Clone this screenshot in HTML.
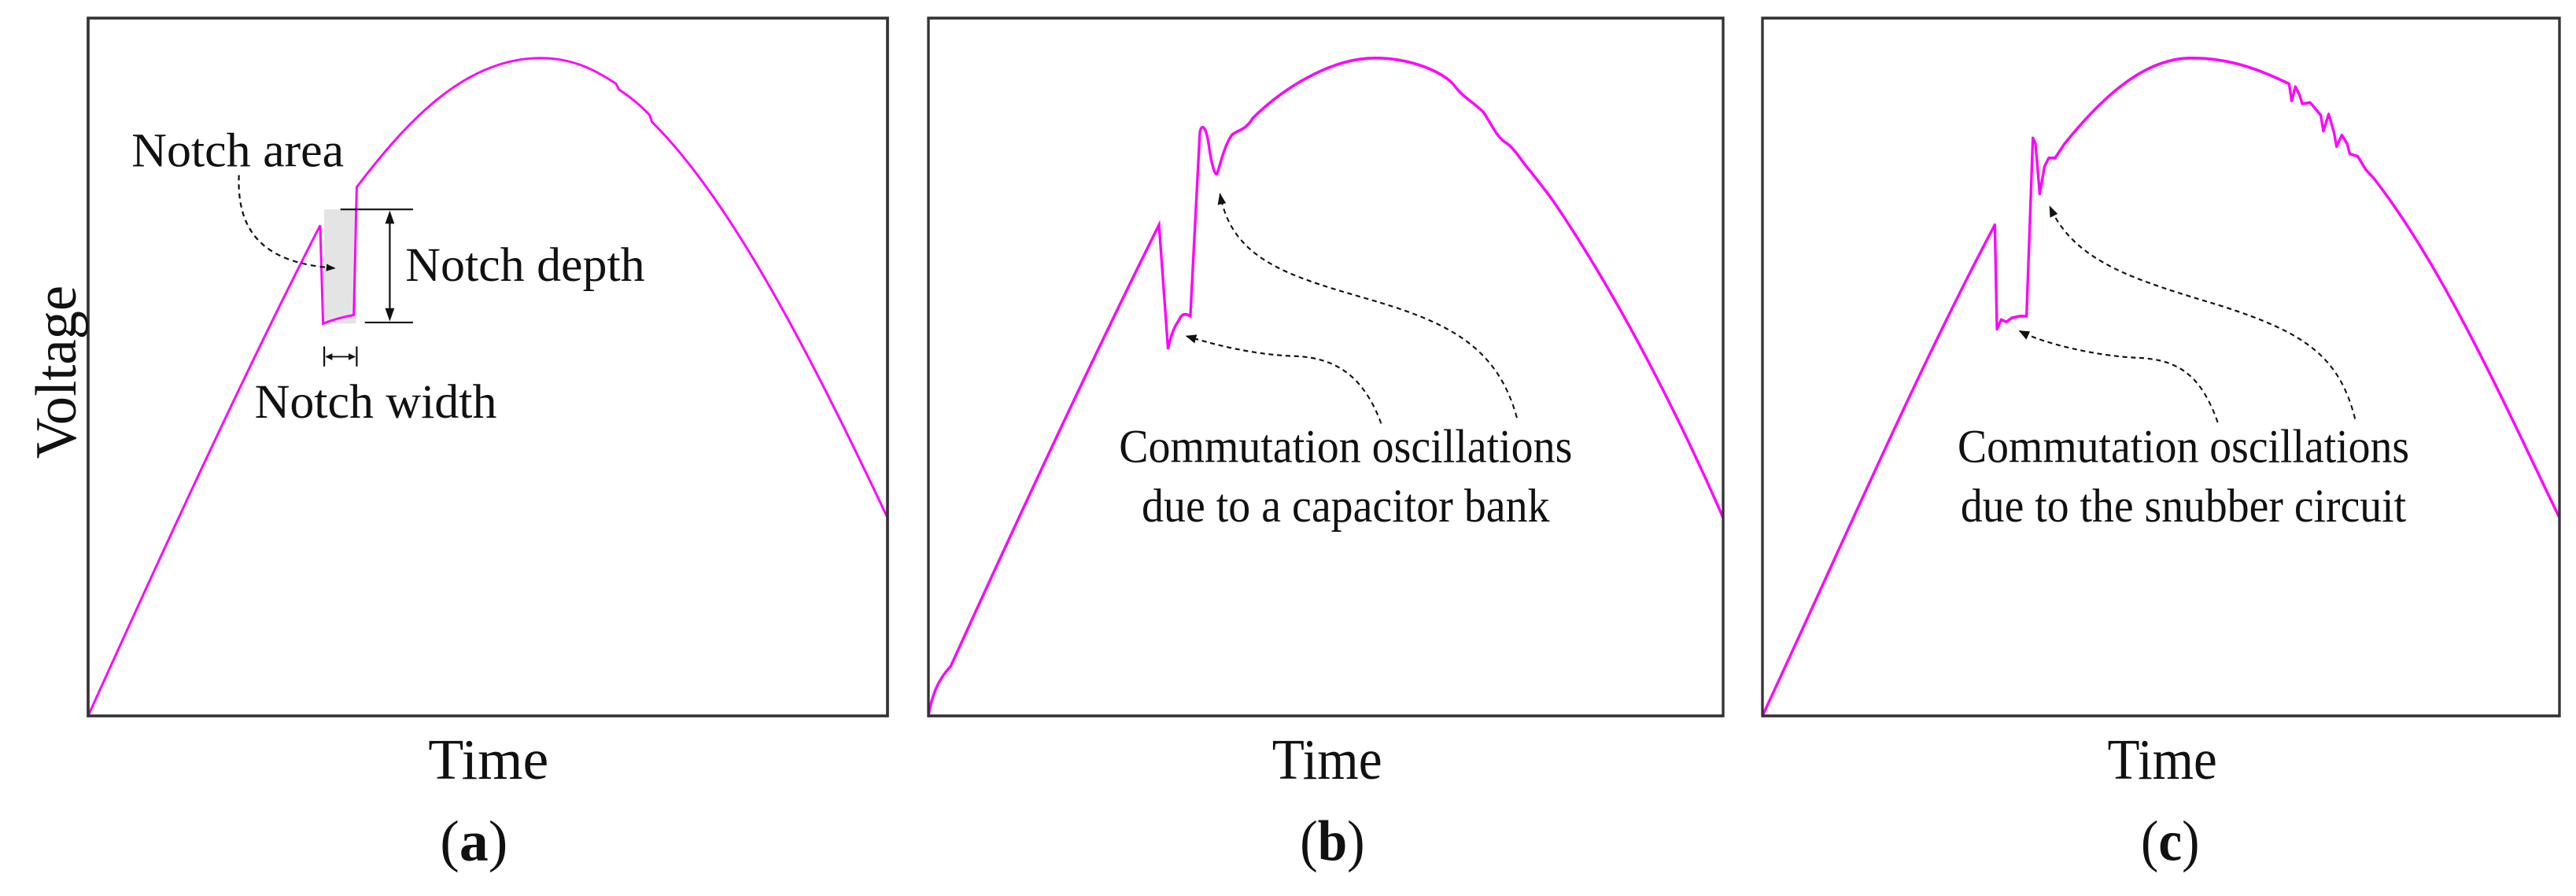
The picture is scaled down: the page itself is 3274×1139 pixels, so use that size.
<!DOCTYPE html>
<html><head><meta charset="utf-8"><style>
html,body{margin:0;padding:0;background:#fff;}
svg{display:block;}
text{font-family:"Liberation Serif",serif;fill:#111;}
</style></head><body>
<svg width="3274" height="1139" viewBox="0 0 3274 1139" xmlns="http://www.w3.org/2000/svg">
<defs>
<marker id="ah2" viewBox="0 0 10 10" refX="9" refY="5" markerWidth="16" markerHeight="16" orient="auto" markerUnits="userSpaceOnUse">
<path d="M0,1 L10,5 L0,9 z" fill="#111"/></marker>
<marker id="ah3" viewBox="0 0 10 10" refX="9" refY="5" markerWidth="20" markerHeight="20" orient="auto" markerUnits="userSpaceOnUse">
<path d="M0,1 L10,5 L0,9 z" fill="#111"/></marker>
</defs>

<!-- Panel a -->
<g transform="translate(112,23) scale(0.7373,0.7259) translate(-150,-30)">
<rect x="557" y="365" width="55" height="200" fill="#e4e4e4"/>
<path d="M150,1252 C280,960 420,650 550,393 L555,565 Q580,555 608,550 L613,326 C700,210 800,100 930,100 C990,100 1030,125 1060,145 L1065,155 Q1095,175 1118,200 L1122,212 C1260,350 1400,630 1528,905" fill="none" stroke="#ff00ff" stroke-width="4"/>
<rect x="150" y="30" width="1378" height="1222" fill="none" stroke="#333" stroke-width="5"/>
<line x1="585" y1="365" x2="710" y2="365" stroke="#111" stroke-width="3"/>
<line x1="627" y1="563" x2="710" y2="563" stroke="#111" stroke-width="3"/>
<line x1="670" y1="380" x2="670" y2="548" stroke="#111" stroke-width="3"/>
<path d="M670,367 L662,390 L678,390 z M670,561 L662,538 L678,538 z" fill="#111"/>
<line x1="557" y1="605" x2="557" y2="640" stroke="#111" stroke-width="3"/>
<line x1="613" y1="605" x2="613" y2="640" stroke="#111" stroke-width="3"/>
<line x1="560" y1="623" x2="610" y2="623" stroke="#111" stroke-width="2.5"/>
<path d="M559,623 L571,617 L571,629 z M611,623 L599,617 L599,629 z" fill="#111"/>
<path d="M410,305 C405,420 470,460 575,468" fill="none" stroke="#111" stroke-width="3" stroke-dasharray="9,7" marker-end="url(#ah2)"/>
<text x="225" y="290" font-size="84">Notch area</text>
<text x="697" y="490" font-size="84">Notch depth</text>
<text x="437" y="730" font-size="84">Notch width</text>
<text x="840" y="1362" font-size="100" text-anchor="middle">Time</text>
<text transform="translate(128,650) rotate(-90)" font-size="100" text-anchor="middle">Voltage</text>
<text x="815" y="1505" font-size="100" text-anchor="middle">(<tspan font-weight="bold">a</tspan>)</text>
</g>

<!-- Panel b -->
<g transform="translate(1180,23) scale(0.6738,0.7259) translate(-28,-30)">
<path d="M28,1252 C35,1215 45,1190 70,1165 C200,900 330,640 463,392 L480,610 C485,585 492,570 500,560 C506,545 515,548 522,552 L540,230 C543,215 552,215 558,260 C562,285 568,305 572,303 C578,290 585,255 600,235 C612,225 625,228 640,205 C700,150 790,100 870,100 C940,100 1000,125 1020,148 C1035,168 1060,180 1075,195 C1090,215 1100,240 1120,250 C1135,260 1150,285 1165,300 C1180,318 1195,335 1210,355 C1330,520 1440,720 1527,905" fill="none" stroke="#ff00ff" stroke-width="5"/>
<rect x="28" y="30" width="1499" height="1222" fill="none" stroke="#333" stroke-width="5"/>
<path d="M882,740 C850,660 800,625 720,622 C640,620 560,600 515,587" fill="none" stroke="#111" stroke-width="3" stroke-dasharray="9,7" marker-end="url(#ah3)"/>
<path d="M1138,730 C1100,600 1000,560 850,520 C700,480 600,450 578,338" fill="none" stroke="#111" stroke-width="3" stroke-dasharray="9,7" marker-end="url(#ah3)"/>
<text x="815" y="808" font-size="83" text-anchor="middle">Commutation oscillations</text>
<text x="815" y="912" font-size="83" text-anchor="middle">due to a capacitor bank</text>
<text x="780" y="1362" font-size="100" text-anchor="middle">Time</text>
<text x="790" y="1505" font-size="100" text-anchor="middle">(<tspan font-weight="bold">b</tspan>)</text>
</g>

<!-- Panel c -->
<g transform="translate(2240,23) scale(0.6713,0.7259) translate(-28,-30)">
<path d="M28,1252 C180,950 320,650 468,392 L472,575 L480,558 L490,562 L500,555 L515,552 L528,552 L540,240 L545,250 L553,338 L562,290 L570,275 L582,275 L600,250 C670,170 750,100 840,100 C920,100 980,125 1025,145 L1030,175 L1037,150 L1045,165 L1050,180 L1065,178 L1085,200 L1090,228 L1100,198 L1110,230 L1115,255 L1125,235 L1135,250 L1140,268 L1155,272 L1170,295 L1185,310 C1320,470 1440,720 1537,905" fill="none" stroke="#ff00ff" stroke-width="5" stroke-linejoin="round"/>
<rect x="28" y="30" width="1509" height="1222" fill="none" stroke="#333" stroke-width="5"/>
<path d="M890,738 C860,660 820,628 740,625 C660,622 560,600 515,578" fill="none" stroke="#111" stroke-width="3" stroke-dasharray="9,7" marker-end="url(#ah3)"/>
<path d="M1150,732 C1120,620 1050,580 900,535 C740,490 620,460 572,360" fill="none" stroke="#111" stroke-width="3" stroke-dasharray="9,7" marker-end="url(#ah3)"/>
<text x="825" y="808" font-size="83" text-anchor="middle">Commutation oscillations</text>
<text x="825" y="912" font-size="83" text-anchor="middle">due to the snubber circuit</text>
<text x="785" y="1362" font-size="100" text-anchor="middle">Time</text>
<text x="800" y="1505" font-size="100" text-anchor="middle">(<tspan font-weight="bold">c</tspan>)</text>
</g>
</svg>
</body></html>
